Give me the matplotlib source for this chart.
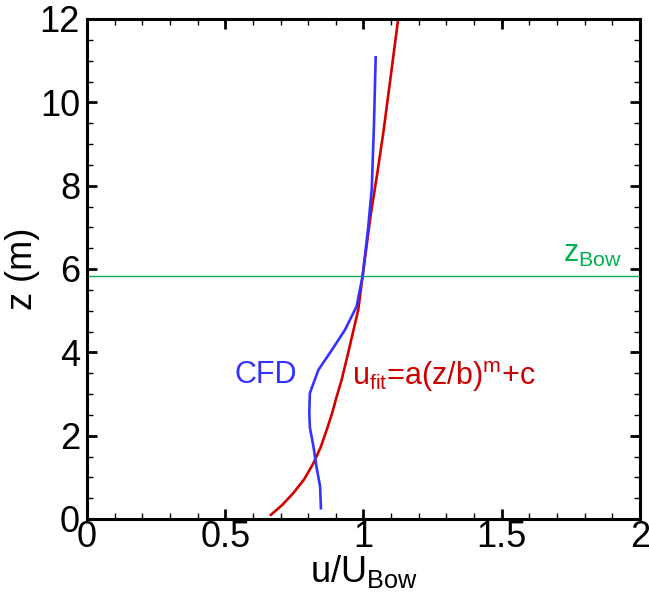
import matplotlib
matplotlib.use("Agg")
import matplotlib.pyplot as plt
from matplotlib.ticker import MultipleLocator

plt.rcParams['font.family'] = ['Liberation Sans', 'DejaVu Sans']
plt.rcParams['mathtext.fontset'] = 'custom'
plt.rcParams['mathtext.rm'] = 'Liberation Sans'
plt.rcParams['mathtext.it'] = 'Liberation Sans'
plt.rcParams['mathtext.default'] = 'regular'

# CFD profile (u/U_Bow, z)
cfd_u = [0.846, 0.843, 0.830, 0.819, 0.806, 0.804, 0.806, 0.837, 0.885, 0.933, 0.975, 0.997, 1.002, 1.017, 1.030, 1.038, 1.044]
cfd_z = [0.26, 0.78, 1.25, 1.74, 2.20, 2.54, 3.02, 3.58, 4.05, 4.54, 5.10, 5.84, 6.14, 7.00, 7.94, 9.50, 11.08]

# fitted profile u_fit = a(z/b)^m + c
fit_u = [0.665, 0.705, 0.746, 0.785, 0.819, 0.845, 0.867, 0.887, 0.903, 0.921, 0.945, 0.981, 0.997, 1.026, 1.050, 1.072, 1.098, 1.124, 1.130]
fit_z = [0.10, 0.33, 0.62, 0.95, 1.34, 1.72, 2.14, 2.55, 2.94, 3.34, 4.00, 5.02, 5.84, 7.30, 8.30, 9.29, 10.60, 11.93, 12.20]

z_bow = 5.84

xticks = [0, 0.5, 1, 1.5, 2]
xtick_labels = ['0', '0.5', '1', '1.5', '2']
yticks = [0, 2, 4, 6, 8, 10, 12]
ytick_labels = ['0', '2', '4', '6', '8', '10', '12']

fig = plt.figure(figsize=(6.49, 6.00), dpi=100)
ax = fig.add_axes([87/649, 81/600, 553/649, 500/600])

ax.axhline(z_bow, color='#00b050', lw=1.0, zorder=1)
ax.plot(fit_u, fit_z, color='#d40000', lw=1.9, zorder=2)
ax.plot(cfd_u, cfd_z, color='#3333ff', lw=1.9, zorder=3)

ax.set_xlim(0, 2)
ax.set_ylim(0, 12)
ax.set_xticks(xticks)
ax.set_xticklabels(xtick_labels)
ax.set_yticks(yticks)
ax.set_yticklabels(ytick_labels)
ax.xaxis.set_minor_locator(MultipleLocator(0.1))
ax.yaxis.set_minor_locator(MultipleLocator(0.5))

for s in ax.spines.values():
    s.set_linewidth(2.2)
ax.tick_params(which='both', direction='in', top=True, right=True, labelsize=26)
ax.tick_params(which='major', length=7.5, width=2.0)
ax.tick_params(which='minor', length=4, width=1.0)
ax.tick_params(axis='x', pad=1)
ax.tick_params(axis='y', pad=5)

ax.set_xlabel(r'u/U$_{Bow}$', fontsize=26, labelpad=-2)
ax.set_ylabel('z (m)', fontsize=26, labelpad=0)

ax.text(0.647, 3.46, 'CFD', color='#3333ff', fontsize=22, ha='center', va='center')
ax.text(0.96, 3.42, r'u$_{fit}$=a(z/b)$^{m}$+c', color='#cc0000', fontsize=22, ha='left', va='center')
ax.text(1.72, 6.0, r'z$_{Bow}$', color='#00b050', fontsize=22, ha='left', va='bottom')

fig.savefig('out.png', dpi=100)
